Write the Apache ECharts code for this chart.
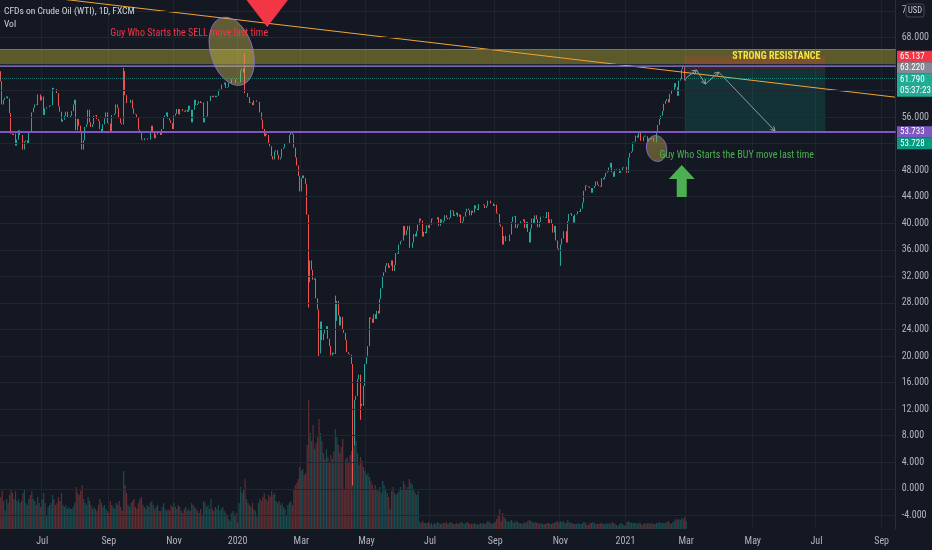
<!DOCTYPE html>
<html><head><meta charset="utf-8">
<script src="https://cdn.jsdelivr.net/npm/echarts@6/dist/echarts.min.js"></script>
<style>html,body{margin:0;padding:0;background:#141823;overflow:hidden}#c{width:932px;height:550px}</style>
</head><body><div id="c"></div><script>
const FONT = '"Liberation Sans Narrow","Roboto Condensed",Roboto,"Liberation Sans",sans-serif';

// ---- x domain: trading days (weekdays) ----
const categories = [];
for (let t = Date.UTC(2019, 4, 22); t <= Date.UTC(2021, 8, 14); t += 86400000) {
  const d = new Date(t), wd = d.getUTCDay();
  if (wd !== 0 && wd !== 6) categories.push(d.toISOString().slice(0, 10));
}

// ---- daily closes (from 2019-05-22) ----
const firstOpen = 62.9;
const closes = [
 61.4, 57.9, 58.6,
 58.9, 59.1, 58.8, 56.6, 53.5,
 53.3, 53.5, 51.7, 52.6, 54.0,
 53.3, 53.3, 51.1, 52.3, 52.5,
 52.0, 53.9, 53.8, 56.7, 57.4,
 57.9, 57.8, 59.4, 59.4, 58.5,
 59.1, 56.3, 57.3, 57.5, 57.5,
 57.7, 57.8, 60.4, 60.2, 60.2,
 59.6, 57.6, 56.8, 55.3, 55.6,
 56.2, 56.8, 55.9, 56.0, 56.2,
 56.9, 57.9, 58.6, 54.0, 55.7,
 54.7, 53.6, 51.1, 52.5, 54.5,
 54.9, 57.1, 55.2, 54.5, 54.9,
 56.2, 56.3, 55.7, 55.4, 54.2,
 53.6, 54.9, 55.8, 56.7, 55.1,
 55.0, 53.9, 56.3, 56.3, 56.5,
 57.9, 57.4, 55.8, 55.1, 54.9,
 62.9, 59.3, 58.1, 58.1, 58.1,
 58.6, 57.3, 56.5, 56.4, 55.9,
 54.1, 53.6, 52.6, 52.5, 52.8,
 52.8, 52.6, 52.6, 53.6, 54.7,
 53.6, 52.8, 53.4, 53.9, 53.8,
 53.3, 54.2, 56.0, 56.2, 56.7,
 55.8, 55.5, 55.1, 54.2, 56.2,
 56.5, 57.2, 56.4, 57.2, 57.2,
 56.9, 56.8, 57.1, 56.8, 57.7,
 57.1, 55.2, 57.1, 58.6, 57.8,
 58.0, 58.4, 58.1, 58.2, 55.2,
 56.0, 56.1, 58.4, 58.4, 59.2,
 59.0, 59.2, 59.0, 59.2, 60.1,
 60.2, 60.9, 60.9, 61.2, 60.4,
 60.5, 61.1, 61.1, 61.7, 61.7,
 61.7, 61.1, 61.1, 61.2, 63.0,
 63.3, 62.7, 59.6, 59.6, 59.0,
 58.1, 58.2, 57.8, 58.5, 58.5,
 58.3, 58.3, 56.7, 55.6, 54.2,
 53.1, 53.5, 53.3, 52.1, 51.6,
 50.1, 49.6, 50.8, 51.0, 50.3,
 49.6, 49.9, 51.2, 51.4, 52.1,
 52.1, 52.1, 53.3, 53.8, 53.4,
 51.4, 49.9, 48.7, 47.1, 44.8,
 46.8, 47.2, 46.8, 45.9, 41.3,
 31.1, 34.4, 33.0, 31.5, 31.7,
 28.7, 27.0, 20.4, 25.2, 22.4,
 23.4, 24.0, 24.5, 22.6, 21.5,
 20.1, 20.5, 20.3, 25.3, 28.3,
 26.1, 24.6, 25.9, 24.0, 23.5,
 22.4, 20.6, 20.3, 20.2, 18.8,
 12.5, 13.4, 14.0, 16.5, 17.2,
 12.8, 12.5, 15.5, 18.8, 19.8,
 21.5, 25.8, 25.6, 25.0, 26.3,
 25.6, 26.8, 26.4, 28.6, 30.2,
 32.0, 32.6, 33.6, 34.0, 33.3,
 33.6, 34.4, 32.8, 33.7, 35.5,
 35.4, 36.8, 37.3, 37.4, 39.6,
 38.2, 38.9, 39.6, 36.3, 36.3,
 37.1, 38.4, 38.0, 38.8, 39.8,
 40.7, 40.4, 38.0, 38.7, 38.5,
 39.7, 39.3, 39.8, 40.7, 40.6,
 40.6, 40.6, 40.9, 39.6, 40.6,
 40.1, 40.3, 41.2, 40.8, 40.6,
 40.8, 42.0, 41.9, 41.1, 41.3,
 41.6, 41.0, 41.3, 39.9, 40.3,
 41.0, 41.7, 42.2, 42.0, 41.2,
 41.9, 41.6, 42.7, 42.2, 42.0,
 42.9, 42.9, 42.9, 42.8, 42.3,
 42.6, 43.4, 43.4, 43.0, 43.0,
 42.6, 42.8, 41.5, 41.4, 39.8,
 39.5, 36.8, 38.1, 37.3, 37.3,
 37.3, 38.3, 40.2, 41.0, 41.1,
 39.3, 39.8, 39.9, 40.3, 40.3,
 40.6, 39.3, 40.2, 38.7, 37.1,
 39.2, 40.7, 40.0, 41.2, 40.6,
 39.4, 40.2, 41.0, 41.0, 40.9,
 40.8, 41.7, 40.0, 40.6, 39.9,
 38.6, 39.6, 37.4, 36.2, 35.8,
 36.8, 37.7, 38.8, 38.8, 37.1,
 40.3, 41.4, 41.5, 41.1, 40.1,
 41.3, 41.4, 41.8, 41.7, 42.2,
 43.1, 44.9, 45.7, 45.6, 45.5,
 45.3, 44.6, 45.3, 45.6, 46.3,
 45.8, 45.6, 45.5, 46.8, 46.6,
 47.0, 47.6, 47.8, 48.4, 49.1,
 47.7, 47.0, 48.1, 48.2, 48.2,
 47.6, 48.0, 48.4, 48.5, 48.5,
 47.6, 49.9, 50.6, 50.8, 52.2,
 52.3, 53.2, 52.9, 53.6, 52.4,
 52.4, 53.0, 53.2, 53.1, 52.3,
 52.8, 52.6, 52.9, 52.3, 52.2,
 53.6, 54.8, 55.7, 56.2, 56.9,
 58.0, 58.4, 58.7, 58.2, 59.5,
 60.1, 60.1, 61.1, 60.5, 59.2,
 61.5, 61.7, 63.2, 63.5, 61.5,
 61.79
];
const wickHighs = {'2019-09-16': 63.4, '2020-01-08': 65.6, '2020-04-02': 29.1, '2021-02-25': 63.8};
const wickLows = {'2020-03-09': 27.3, '2020-03-18': 20.0, '2020-04-20': 0.5, '2020-04-21': 6.5, '2020-04-27': 10.4, '2020-11-02': 33.6};

// ---- daily volume (thousands of ticks) ----
const volumes = [
 32, 38, 28,
 18, 30, 26, 34, 40,
 36, 30, 38, 28, 30,
 26, 28, 36, 40, 26,
 24, 30, 34, 38, 30,
 28, 24, 32, 26, 22,
 30, 36, 26, 14, 22,
 24, 26, 34, 30, 24,
 26, 32, 28, 36, 24,
 22, 24, 20, 22, 20,
 20, 22, 26, 42, 36,
 34, 38, 44, 30, 26,
 24, 32, 28, 24, 20,
 22, 20, 18, 24, 30,
 26, 22, 24, 20, 18,
 16, 28, 24, 22, 20,
 26, 24, 28, 22, 18,
 58, 44, 36, 24, 22,
 26, 28, 30, 22, 20,
 26, 30, 32, 24, 22,
 20, 24, 22, 26, 28,
 24, 20, 22, 24, 18,
 18, 22, 26, 20, 18,
 20, 18, 24, 22, 26,
 22, 20, 24, 22, 18,
 16, 20, 22, 18, 20,
 18, 26, 24, 22, 20,
 18, 16, 20, 14, 28,
 26, 22, 24, 20, 30,
 20, 18, 22, 20, 24,
 18, 20, 22, 18, 16,
 14, 10, 8, 16, 18,
 14, 16, 6, 26, 42,
 36, 40, 50, 30, 26,
 24, 22, 26, 20, 18,
 12, 26, 30, 28, 32,
 36, 30, 28, 34, 32,
 38, 34, 36, 28, 26,
 28, 24, 26, 22, 20,
 14, 24, 26, 28, 24,
 40, 44, 46, 50, 62,
 58, 60, 54, 56, 84,
 129, 96, 88, 104, 80,
 86, 92, 110, 96, 88,
 76, 70, 80, 72, 66,
 74, 70, 78, 100, 92,
 84, 76, 82, 90, 40,
 70, 72, 66, 74, 78,
 82, 96, 88, 76, 64,
 72, 68, 62, 58, 54,
 56, 52, 48, 44, 40,
 44, 40, 38, 42, 36,
 48, 44, 40, 36, 32,
 20, 38, 42, 36, 34,
 36, 38, 42, 40, 48,
 44, 40, 42, 50, 46,
 44, 40, 36, 34, 38,
 7, 6, 8, 6, 6,
 6, 7, 5, 6, 4,
 6, 5, 7, 6, 5,
 5, 6, 6, 7, 5,
 6, 7, 6, 5, 5,
 6, 5, 6, 7, 6,
 5, 6, 7, 6, 5,
 5, 5, 6, 5, 4,
 5, 6, 5, 6, 5,
 6, 8, 7, 6, 5,
 6, 7, 10, 14, 20,
 8, 16, 12, 10, 8,
 7, 8, 9, 7, 6,
 8, 7, 6, 6, 5,
 6, 7, 6, 8, 9,
 8, 7, 6, 7, 6,
 6, 5, 6, 5, 5,
 5, 6, 6, 5, 5,
 6, 6, 7, 8, 6,
 8, 7, 8, 6, 6,
 9, 7, 6, 6, 5,
 5, 5, 6, 5, 5,
 6, 7, 6, 4, 4,
 6, 6, 7, 6, 5,
 5, 5, 6, 6, 5,
 5, 6, 5, 6, 5,
 7, 6, 5, 4, 3,
 5, 6, 5, 4, 3,
 7, 8, 7, 6, 6,
 6, 6, 5, 6, 6,
 4, 5, 6, 5, 6,
 6, 5, 6, 5, 5,
 6, 6, 7, 6, 6,
 6, 6, 7, 8, 6,
 5, 7, 8, 10, 9,
 10, 9, 11, 10, 12,
 8
];

// ---- ticks ----
const priceTicks = [-4, 0, 4, 8, 12, 16, 20, 24, 28, 32, 36, 40, 44, 48, 52, 56, 60, 64, 68, 72];
const monthTicks = [['2019-07','Jul'],['2019-09','Sep'],['2019-11','Nov'],['2020-01','2020'],['2020-03','Mar'],['2020-05','May'],['2020-07','Jul'],['2020-09','Sep'],['2020-11','Nov'],['2021-01','2021'],['2021-03','Mar'],['2021-05','May'],['2021-07','Jul'],['2021-09','Sep']];

// ---- drawing levels / annotations (data space) ----
const resistanceBand = [63.6, 66.15];
const supportLevel = 53.733;
const shortStop = 65.137, shortEntry = 63.22, shortTarget = 53.733;
const positionSpan = ['2021-02-26', '2021-07-09'];
const lastPrice = 61.79, lastClose2 = 53.728, countdown = '05:37:23';
const trendLine = [['2019-05-22', 74.85], ['2021-09-14', 59.0]];
const sellOval = ['2019-12-26', 65.9];
const buyOval = ['2021-02-01', 51.26];
const sellArrowTip = ['2020-01-29', 69.56];
const buyArrowTip = ['2021-02-24', 48.77];
const sellText = ['2019-09-03', 68.65, 'Guy Who Starts the SELL move last time'];
const buyText = ['2021-02-03', 50.28, 'Guy Who Starts the BUY move last time'];
const projection = [['2021-03-01', 61.9], ['2021-03-10', 63.08], ['2021-03-18', 60.97], ['2021-03-31', 62.77], ['2021-05-24', 53.9]];

// ---- build series data ----
const candleData = closes.map((c, i) => {
  const d = categories[i];
  const o = i === 0 ? firstOpen : closes[i - 1];
  let lo = Math.min(o, c), hi = Math.max(o, c);
  if (d in wickLows) lo = Math.min(lo, wickLows[d]);
  if (d in wickHighs) hi = Math.max(hi, wickHighs[d]);
  return [o, c, lo, hi];
});
const UP = '#26a69a', DN = '#ef5350';
const volData = volumes.map((v, i) => ({
  value: v,
  itemStyle: {color: candleData[i] && candleData[i][1] >= candleData[i][0] ? 'rgba(38,166,154,0.36)' : 'rgba(239,83,80,0.36)'}
}));
const monthStart = {};
monthTicks.forEach(([m, lab]) => { const d = categories.find(c => c.startsWith(m)); if (d) monthStart[d] = lab; });

const chart = echarts.init(document.getElementById('c'), null, {renderer: 'canvas'});
chart.setOption({
  animation: false,
  backgroundColor: '#141823',
  grid: {left: 0, right: 35, top: 0, bottom: 21},
  xAxis: {
    type: 'category', data: categories, boundaryGap: true,
    axisLine: {show: true, lineStyle: {color: '#2a2e39'}},
    axisTick: {show: false},
    axisLabel: {interval: (i, v) => v in monthStart, formatter: v => monthStart[v] || '', color: '#b2b5be', fontSize: 10, fontFamily: FONT, margin: 7},
    splitLine: {show: true, interval: (i, v) => v in monthStart, lineStyle: {color: '#1f2330', width: 1}}
  },
  yAxis: [{
    type: 'value', position: 'right', min: -6.05, max: 73.63, scale: true,
    axisLine: {show: true, lineStyle: {color: '#2a2e39'}},
    axisTick: {show: false},
    splitLine: {show: false},
    axisLabel: {customValues: priceTicks, formatter: v => Number(v).toFixed(3), color: '#b2b5be', fontSize: 10, fontFamily: FONT, margin: 6}
  }, {
    type: 'value', min: 0, max: 529, show: false
  }],
  series: [
    {
      type: 'line', data: [], silent: true, z: 0,
      markLine: {silent: true, symbol: ['none', 'none'], label: {show: false}, animation: false,
        lineStyle: {color: '#222633', width: 1, type: 'solid'},
        data: priceTicks.map(v => ({yAxis: v}))}
    },
    {
      type: 'bar', xAxisIndex: 0, yAxisIndex: 1, data: volData, barWidth: 1.2, silent: true, z: 1
    },
    {
      type: 'line', data: [], silent: true, z: 1,
      markArea: {silent: true, animation: false,
        data: [
          [{yAxis: resistanceBand[0], itemStyle: {color: 'rgba(255,235,59,0.31)'}}, {yAxis: resistanceBand[1]}]
        ]},
      markLine: {silent: true, symbol: ['none', 'none'], label: {show: false}, animation: false,
        data: [
          {yAxis: resistanceBand[1], lineStyle: {color: '#7568ad', width: 1, type: 'solid'}},
          {yAxis: resistanceBand[0], lineStyle: {color: '#7568ad', width: 1, type: 'solid'}},
          {yAxis: lastPrice, lineStyle: {color: 'rgba(34,171,148,0.6)', width: 1, type: 'dotted'}},
          {yAxis: supportLevel, lineStyle: {color: '#7e57c2', width: 2, type: 'solid'}}
        ]}
    },
    {
      type: 'candlestick', data: candleData, barWidth: 1.1, z: 2, silent: true,
      itemStyle: {color: UP, color0: DN, borderColor: UP, borderColor0: DN, borderWidth: 1},
      markArea: {silent: true, animation: false,
        data: [
          [{xAxis: positionSpan[0], yAxis: shortEntry, itemStyle: {color: 'rgba(242,54,69,0.22)'}}, {xAxis: positionSpan[1], yAxis: shortStop}],
          [{xAxis: positionSpan[0], yAxis: shortTarget, itemStyle: {color: 'rgba(8,153,129,0.2)'}}, {xAxis: positionSpan[1], yAxis: shortEntry}]
        ]}
    },
    {
      type: 'line', data: trendLine, symbol: 'none', silent: true, z: 3, clip: true,
      lineStyle: {color: '#f2a33a', width: 1}
    }
  ]
});

// ---- overlay drawings ----
const P = (d, p) => chart.convertToPixel({xAxisIndex: 0, yAxisIndex: 0}, [d, p]);
const G = [];
function ellipsePts(cx, cy, rx, ry, th) {
  const pts = [];
  for (let k = 0; k < 72; k++) {
    const t = k / 72 * 2 * Math.PI, ex = rx * Math.cos(t), ey = ry * Math.sin(t);
    pts.push([cx + ex * Math.cos(th) + ey * Math.sin(th), cy - ex * Math.sin(th) + ey * Math.cos(th)]);
  }
  return pts;
}
function txt(x, y, text, fill, size, align, bold) {
  return {type: 'text', x, y, z: 120, silent: true,
    style: {text, fill, font: (bold ? 'bold ' : '') + size + 'px ' + FONT, textAlign: align || 'left', textVerticalAlign: 'middle', align: align || 'left', verticalAlign: 'middle'}};
}
// sell oval
let c = P(sellOval[0], sellOval[1]);
G.push({type: 'polygon', z: 100, silent: true, shape: {points: ellipsePts(c[0], c[1], 21, 35, 0.3)}, style: {fill: 'rgba(200,188,80,0.42)', stroke: '#8a6fd1', lineWidth: 1}});
// buy oval
c = P(buyOval[0], buyOval[1]);
G.push({type: 'polygon', z: 100, silent: true, shape: {points: ellipsePts(c[0], c[1], 10, 13, 0.2)}, style: {fill: 'rgba(170,150,70,0.5)', stroke: '#8a6fd1', lineWidth: 1}});
// red arrow
c = P(sellArrowTip[0], sellArrowTip[1]);
G.push({type: 'polygon', z: 101, silent: true, shape: {points: [[c[0], c[1]], [c[0] - 23, c[1] - 30], [c[0] + 23, c[1] - 30]]}, style: {fill: '#f23645'}});
// green arrow
c = P(buyArrowTip[0], buyArrowTip[1]);
G.push({type: 'polygon', z: 101, silent: true, shape: {points: [[c[0], c[1]], [c[0] + 13, c[1] + 14], [c[0] + 5, c[1] + 14], [c[0] + 5, c[1] + 32], [c[0] - 5, c[1] + 32], [c[0] - 5, c[1] + 14], [c[0] - 13, c[1] + 14]]}, style: {fill: '#4caf50'}});
// texts
c = P(sellText[0], sellText[1]);
G.push(txt(c[0], c[1], sellText[2], '#f23645', 10));
c = P(buyText[0], buyText[1]);
G.push(txt(c[0], c[1], buyText[2], '#4caf50', 10));
c = P(positionSpan[1], 65.15);
G.push(txt(c[0] - 5, c[1], 'STRONG RESISTANCE', '#f5e342', 10, 'right', true));
// projection path with arrowheads
const pp = projection.map(q => P(q[0], q[1]));
G.push({type: 'polyline', z: 102, silent: true, shape: {points: pp}, style: {stroke: '#9598a1', lineWidth: 1, fill: null}});
for (let k = 1; k < pp.length; k++) {
  const a = Math.atan2(pp[k][1] - pp[k - 1][1], pp[k][0] - pp[k - 1][0]);
  const L = 5;
  G.push({type: 'polyline', z: 102, silent: true, shape: {points: [
    [pp[k][0] - L * Math.cos(a - 0.5), pp[k][1] - L * Math.sin(a - 0.5)], pp[k],
    [pp[k][0] - L * Math.cos(a + 0.5), pp[k][1] - L * Math.sin(a + 0.5)]]}, style: {stroke: '#9598a1', lineWidth: 1, fill: null}});
}
// header
G.push(txt(4, 12, 'CFDs on Crude Oil (WTI), 1D, FXCM', '#d1d4dc', 9.5));
G.push(txt(4, 25, 'Vol', '#d1d4dc', 9.5));
// price tags on the right scale
const AX = 897, TW = 35, TH = 11.5;
function tag(yTop, h, bg, lines, fg) {
  G.push({type: 'rect', z: 110, silent: true, shape: {x: AX, y: yTop, width: TW, height: h}, style: {fill: bg}});
  lines.forEach((s, k) => G.push(txt(AX + 3, yTop + TH / 2 + k * TH, s, fg || '#ffffff', 9)));
}
let yStop = P(positionSpan[0], shortStop)[1] - TH / 2;
tag(yStop, TH, '#f23645', [shortStop.toFixed(3)]);
tag(yStop + TH, TH, '#868993', [shortEntry.toFixed(3)]);
tag(yStop + 2 * TH, 2 * TH, '#22ab94', [lastPrice.toFixed(3), countdown]);
let ySup = P(positionSpan[0], supportLevel)[1] - TH / 2;
tag(ySup, TH, '#7e57c2', [supportLevel.toFixed(3)]);
tag(ySup + TH, TH, '#089981', [lastClose2.toFixed(3)]);
// USD box (covers the rest of the top tick label)
G.push({type: 'rect', z: 111, silent: true, shape: {x: 906, y: 2, width: 26, height: 17}, style: {fill: '#141823'}});
G.push({type: 'rect', z: 112, silent: true, shape: {x: 906, y: 4, width: 18, height: 13, r: 2}, style: {fill: '#141823', stroke: '#434651', lineWidth: 1}});
G.push(Object.assign(txt(915, 10.5, 'USD', '#d1d4dc', 8.5, 'center'), {z: 113}));
chart.setOption({graphic: G});
</script></body></html>
